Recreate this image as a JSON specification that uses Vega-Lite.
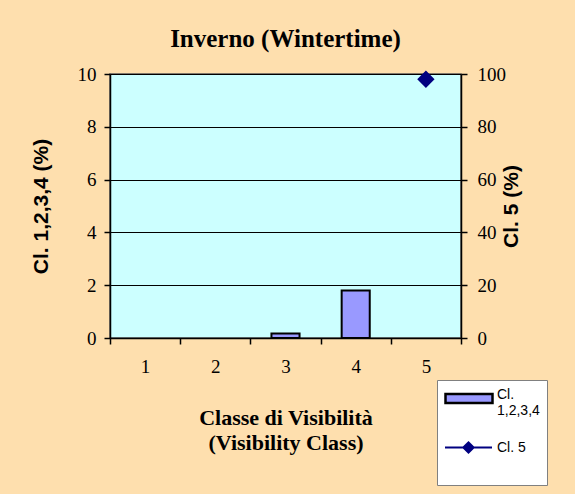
{
  "$schema": "https://vega.github.io/schema/vega-lite/v6.json",
  "width": 351,
  "height": 264,
  "autosize": {"type": "none"},
  "padding": {"left": 110, "top": 74, "right": 114, "bottom": 156},
  "background": "#FEDFAE",
  "config": {
    "view": {"fill": "#CCFFFF", "stroke": "#555555", "strokeWidth": 1.5},
    "axis": {"domainColor": "black", "tickColor": "black", "labelColor": "black", "titleColor": "black", "domainWidth": 1.5, "tickWidth": 1.5}
  },
  "title": {"text": "Inverno (Wintertime)", "font": "Liberation Serif", "fontSize": 25, "fontWeight": "bold", "color": "black", "offset": 13, "anchor": "middle"},
  "data": {
    "values": [
      {"classe": "1", "serie": "Cl. 1,2,3,4", "valore": 0},
      {"classe": "2", "serie": "Cl. 1,2,3,4", "valore": 0},
      {"classe": "3", "serie": "Cl. 1,2,3,4", "valore": 0.17},
      {"classe": "4", "serie": "Cl. 1,2,3,4", "valore": 1.8},
      {"classe": "5", "serie": "Cl. 5", "valore": 98}
    ]
  },
  "layer": [
    {
      "transform": [{"filter": "datum.serie == 'Cl. 1,2,3,4' && datum.valore > 0"}],
      "mark": {"type": "bar", "width": {"band": 0.4}, "strokeWidth": 2},
      "encoding": {
        "x": {
          "field": "classe", "type": "ordinal",
          "scale": {"domain": ["1", "2", "3", "4", "5"], "paddingInner": 0, "paddingOuter": 0},
          "axis": {
            "title": ["Classe di Visibilità", "(Visibility Class)"],
            "titleFont": "Liberation Serif", "titleFontSize": 22, "titleFontWeight": "bold",
            "titleLineHeight": 25, "titlePadding": 31,
            "labelAngle": 0, "labelFont": "Liberation Serif", "labelFontSize": 19, "labelPadding": 13,
            "tickBand": "extent", "tickSize": 6
          }
        },
        "y": {
          "field": "valore", "type": "quantitative",
          "scale": {"domain": [0, 10], "nice": false},
          "axis": {
            "title": "Cl. 1,2,3,4 (%)", "values": [0, 2, 4, 6, 8, 10],
            "titleFont": "Liberation Sans", "titleFontSize": 21, "titleFontWeight": "bold", "titlePadding": 26,
            "labelFont": "Liberation Serif", "labelFontSize": 19, "labelPadding": 8, "tickSize": 6,
            "grid": true, "gridColor": "black", "gridOpacity": 1, "gridWidth": 1
          }
        },
        "color": {
          "field": "serie", "type": "nominal",
          "scale": {"domain": ["Cl. 1,2,3,4", "Cl. 5"], "range": ["#9999FF", "transparent"]},
          "legend": {
            "orient": "none", "legendX": 327, "legendY": 306,
            "title": " ", "titleOrient": "bottom", "titleFontSize": 12, "titlePadding": 6,
            "fillColor": "white", "strokeColor": "#808080", "padding": 7,
            "labelFont": "Liberation Sans", "labelFontSize": 14, "labelColor": "black",
            "labelBaseline": "alphabetic",
            "symbolSize": 400, "symbolType": "M-1,-0.45H3.7V0.45H-1Z", "symbolStrokeWidth": 2.5,
            "labelOffset": 30, "rowPadding": 22,
            "labelExpr": "datum.value == 'Cl. 5' ? 'Cl. 5' : ['Cl.', '1,2,3,4']"
          }
        },
        "stroke": {
          "field": "serie", "type": "nominal",
          "scale": {"domain": ["Cl. 1,2,3,4", "Cl. 5"], "range": ["black", "transparent"]}
        }
      }
    },
    {
      "transform": [{"filter": "datum.serie == 'Cl. 5'"}],
      "mark": {"type": "point", "shape": "diamond", "filled": true, "size": 210, "color": "#000080", "stroke": "#000080", "strokeWidth": 2},
      "encoding": {
        "x": {"field": "classe", "type": "ordinal"},
        "y": {
          "field": "valore", "type": "quantitative",
          "scale": {"domain": [0, 100], "nice": false},
          "axis": {
            "orient": "right", "title": "Cl. 5 (%)", "values": [0, 20, 40, 60, 80, 100],
            "titleFont": "Liberation Sans", "titleFontSize": 21, "titleFontWeight": "bold", "titlePadding": 16, "titleAngle": 270,
            "labelFont": "Liberation Serif", "labelFontSize": 19, "labelPadding": 10, "tickSize": 6, "grid": false
          }
        },
        "opacity": {
          "field": "serie", "type": "nominal",
          "scale": {"type": "ordinal", "domain": ["Cl. 5"], "range": [1]},
          "legend": {
            "orient": "none", "legendX": 327, "legendY": 342, "title": null,
            "padding": 7,
            "labelFont": "Liberation Sans", "labelFontSize": 14, "labelOpacity": 0,
            "labelBaseline": "alphabetic",
            "symbolSize": 2209, "symbolType": "M-1,0H1M-0.22,0L0,-0.22L0.22,0L0,0.22Z", "symbolStrokeWidth": 2,
            "labelOffset": 3,
            "labelExpr": "' '"
          }
        }
      }
    }
  ],
  "resolve": {"scale": {"y": "independent"}}
}
